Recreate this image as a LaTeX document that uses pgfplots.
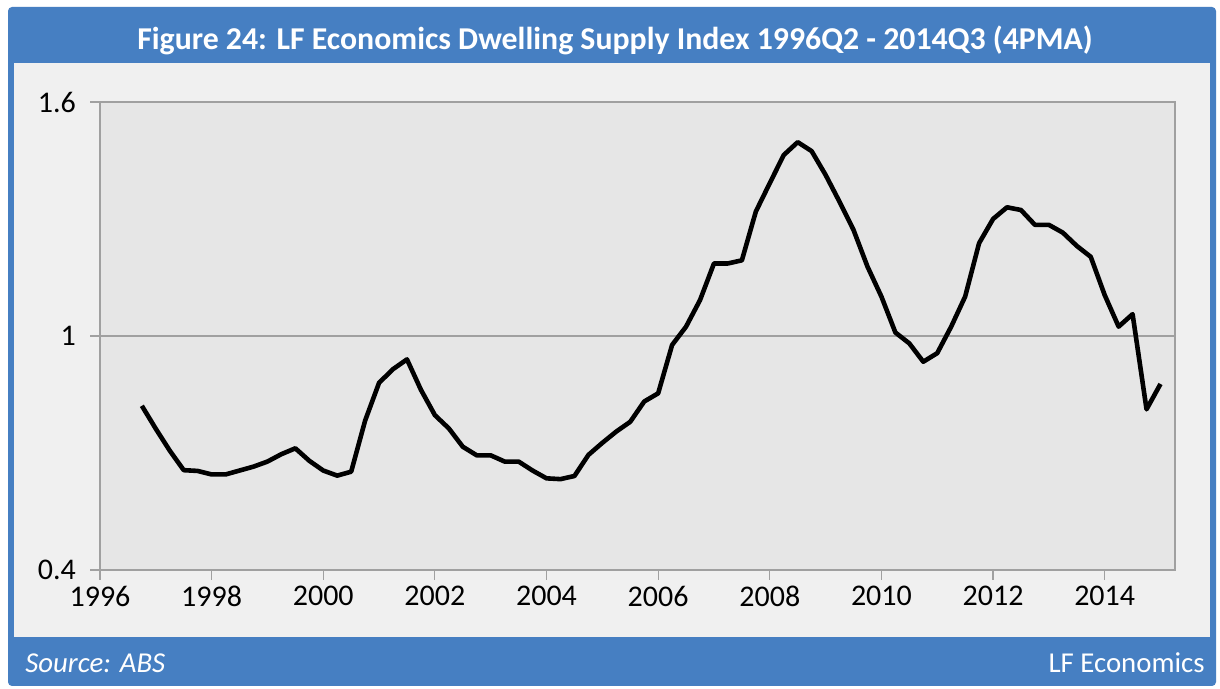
\documentclass[border=0pt]{standalone}
\usepackage{fontspec}
\setmainfont{Carlito}
\usepackage{pgfplots}
\usepackage{pgfplotstable}
\pgfplotsset{compat=1.18}
\definecolor{frameblue}{HTML}{467FC2}
\definecolor{panelgrey}{HTML}{F0F0F0}
\definecolor{plotgrey}{HTML}{E6E6E6}
\definecolor{axisgrey}{HTML}{A0A0A0}
\pgfplotstableread{
x y
1996.75 0.821
1997.00 0.762
1997.25 0.706
1997.50 0.656
1997.75 0.654
1998.00 0.645
1998.25 0.645
1998.50 0.655
1998.75 0.665
1999.00 0.678
1999.25 0.697
1999.50 0.712
1999.75 0.680
2000.00 0.655
2000.25 0.642
2000.50 0.652
2000.75 0.783
2001.00 0.880
2001.25 0.915
2001.50 0.940
2001.75 0.862
2002.00 0.797
2002.25 0.763
2002.50 0.716
2002.75 0.694
2003.00 0.694
2003.25 0.678
2003.50 0.678
2003.75 0.655
2004.00 0.635
2004.25 0.633
2004.50 0.641
2004.75 0.695
2005.00 0.726
2005.25 0.755
2005.50 0.780
2005.75 0.832
2006.00 0.853
2006.25 0.977
2006.50 1.024
2006.75 1.092
2007.00 1.186
2007.25 1.186
2007.50 1.194
2007.75 1.319
2008.00 1.392
2008.25 1.464
2008.50 1.497
2008.75 1.474
2009.00 1.413
2009.25 1.344
2009.50 1.272
2009.75 1.178
2010.00 1.101
2010.25 1.009
2010.50 0.981
2010.75 0.934
2011.00 0.956
2011.25 1.024
2011.50 1.101
2011.75 1.238
2012.00 1.300
2012.25 1.330
2012.50 1.323
2012.75 1.285
2013.00 1.285
2013.25 1.265
2013.50 1.231
2013.75 1.203
2014.00 1.105
2014.25 1.024
2014.50 1.056
2014.75 0.812
2015.00 0.877
}\dsi
\begin{document}
\begin{tikzpicture}
\path[use as bounding box] (0pt,0pt) rectangle (610pt,344.5pt);
\fill[white] (0pt,0pt) rectangle (610pt,344.5pt);
\fill[frameblue, rounded corners=2pt] (4pt,1.5pt) rectangle (608pt,341pt);
\fill[panelgrey] (7pt,26pt) rectangle (605pt,313pt);
\node[text=white, font=\bfseries\fontsize{15.9}{18}\selectfont] at (307.5pt,324.5pt) {Figure 24: LF Economics Dwelling Supply Index 1996Q2 - 2014Q3 (4PMA)};
\node[anchor=west, text=white, font=\itshape\fontsize{14.4}{16}\selectfont, inner sep=0pt] at (12.5pt,13pt) {Source: ABS};
\node[anchor=east, text=white, font=\fontsize{14.4}{16}\selectfont, inner sep=0pt] at (602.5pt,13pt) {LF Economics};
\begin{axis}[
  at={(50pt,59.5pt)}, anchor=south west,
  scale only axis, width=537.5pt, height=234pt,
  xmin=1996, xmax=2015.26, ymin=0.4, ymax=1.6,
  ytick={0.4,1,1.6}, xtick={1996,1998,...,2014},
  /pgf/number format/assume math mode=true,
  /pgf/number format/1000 sep={},
  axis background/.style={fill=plotgrey},
  axis line style={axisgrey, line width=0.6pt},
  tick style={axisgrey, line width=0.6pt},
  tick align=outside,
  major tick length=5pt,
  xtick pos=bottom, ytick pos=left,
  ymajorgrids, grid style={axisgrey, line width=0.6pt},
  ticklabel style={font=\fontsize{15}{17}\selectfont, text=black},
  yticklabel style={xshift=-3.5pt},
  xticklabel style={yshift=0.5pt},
  clip=false,
]
\addplot[black, line width=2.3pt, line join=round] table[x=x,y=y] {\dsi};
\end{axis}
\end{tikzpicture}
\end{document}
